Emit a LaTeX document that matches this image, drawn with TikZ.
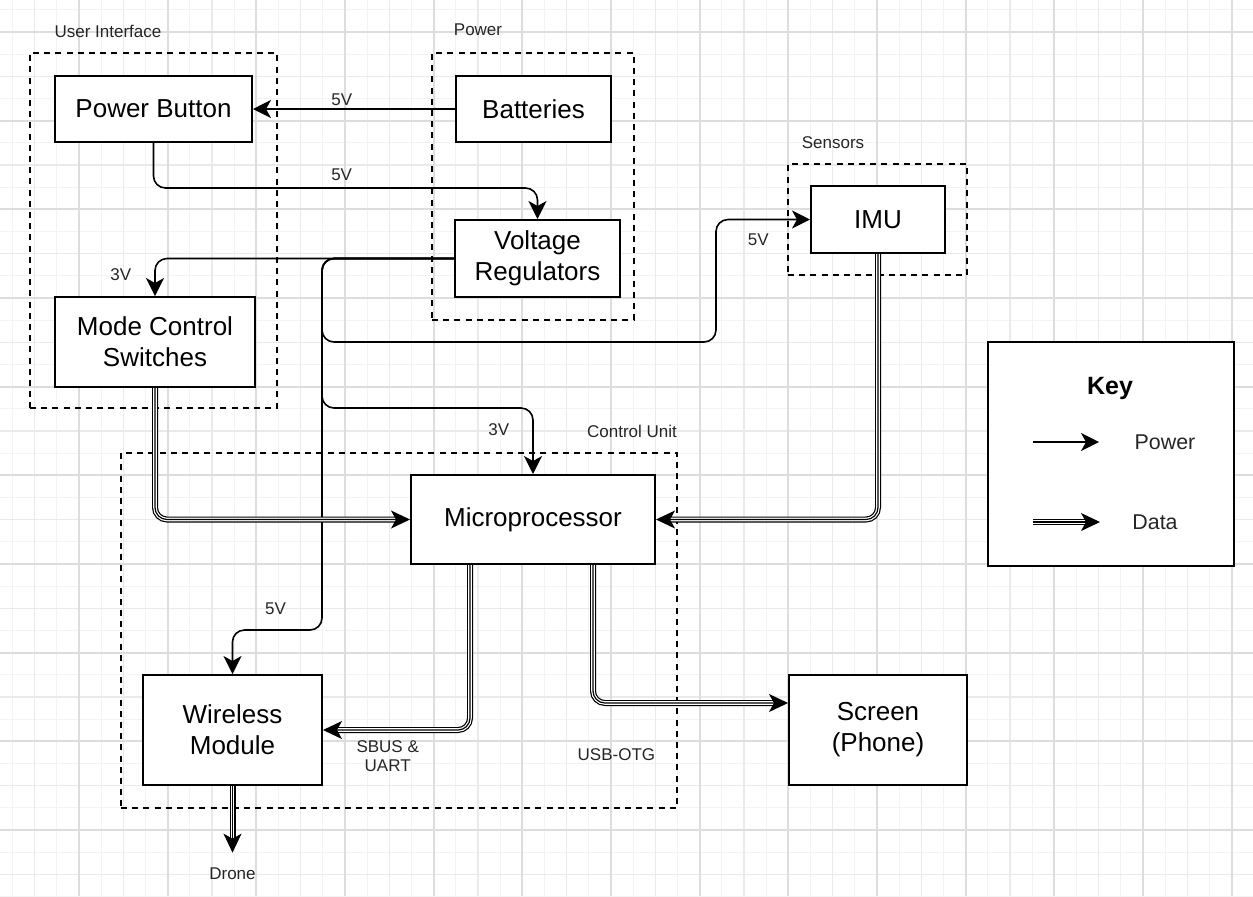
\documentclass[tikz,border=0pt]{standalone}
\usepackage{fontspec}
\setmainfont{Liberation Sans}
\usetikzlibrary{arrows.meta}
\definecolor{gridfaint}{RGB}{243,243,243}
\definecolor{gridmid}{RGB}{234,234,234}
\definecolor{gridmajor}{RGB}{221,221,221}
\tikzset{
  block/.style={draw, line width=1pt, fill=white, align=center, inner sep=2pt,
    font=\fontsize{13}{15.5}\selectfont},
  group/.style={draw, line width=0.9pt, dash pattern=on 3pt off 2.6pt, inner sep=0pt},
  lbl/.style={font=\fontsize{8.5}{9.5}\selectfont, text=black!85, align=center, inner sep=1.5pt},
  keytext/.style={font=\fontsize{10.7}{13}\selectfont, text=black!85},
  power/.style={line width=0.8pt, rounded corners=6pt,
    -{Stealth[length=9pt, width=9pt, inset=2.5pt]}},
  data/.style={line width=0.6pt, rounded corners=6pt,
    -{Stealth[length=9.5pt, width=9pt, inset=2.5pt]},
    preaction={draw, line width=0.6pt, double=white, double distance=1.8pt, arrows=-, shorten >=5pt}}
}

\begin{document}
\begin{tikzpicture}[x=0.5pt, y=-0.5pt]
    \useasboundingbox (0,0) rectangle (1253,896);
    % background grid
    \begin{scope}
      \clip (0,0) rectangle (1253,896);
      \fill[white] (0,0) rectangle (1253,896);
      \foreach \k in {-3,...,53} \draw[gridfaint, line width=0.5pt] (79+22.1675*\k,0) -- (79+22.1675*\k,896);
      \foreach \k in {-1,...,39} \draw[gridfaint, line width=0.5pt] (0,32+22.1675*\k) -- (1253,32+22.1675*\k);
      \foreach \k in {-1,...,26} \draw[gridmid, line width=0.7pt] (79+44.335*\k,0) -- (79+44.335*\k,896);
      \foreach \k in {0,...,19} \draw[gridmid, line width=0.7pt] (0,32+44.335*\k) -- (1253,32+44.335*\k);
      \foreach \k in {-1,...,13} \draw[gridmajor, line width=0.9pt] (79+88.67*\k,0) -- (79+88.67*\k,896);
      \foreach \k in {0,...,9} \draw[gridmajor, line width=0.9pt] (0,32+88.67*\k) -- (1253,32+88.67*\k);
    \end{scope}

    % groups
    \node[group, minimum width=123.5pt, minimum height=177.5pt] (uigroup) at (153.5,230.5) {};
    \node[lbl] (uilabel) at (108,31) {User Interface};
    \node[group, minimum width=101pt, minimum height=133.5pt] (powergroup) at (533,186.5) {};
    \node[lbl] (powerlabel) at (478,30) {Power};
    \node[group, minimum width=89.5pt, minimum height=55.5pt] (sensorgroup) at (877.5,219.5) {};
    \node[lbl] (sensorlabel) at (833,143) {Sensors};
    \node[group, minimum width=278pt, minimum height=177.5pt] (controlgroup) at (399,630.5) {};
    \node[lbl] (controllabel) at (632,431) {Control Unit};

    % blocks
    \node[block, minimum width=98.5pt, minimum height=33pt] (button) at (153.5,109) {Power Button};
    \node[block, minimum width=100pt, minimum height=45pt] (switches) at (155,342) {Mode Control\\Switches};
    \node[block, minimum width=77.5pt, minimum height=33pt] (batteries) at (533.5,109) {Batteries};
    \node[block, minimum width=82.5pt, minimum height=38.5pt] (regulators) at (537.5,258.5) {Voltage\\Regulators};
    \node[block, minimum width=67pt, minimum height=33.5pt] (imu) at (878,219.5) {IMU};
    \node[block, minimum width=122pt, minimum height=44.5pt] (micro) at (533,519.5) {Microprocessor};
    \node[block, minimum width=89.5pt, minimum height=55pt] (wireless) at (232.5,730) {Wireless\\Module};
    \node[block, minimum width=89pt, minimum height=55pt] (screen) at (878,730) {Screen\\(Phone)};
    \node[lbl] (drone) at (232.5,874) {Drone};

    % power connections
    \draw[power] (batteries.west) -- node[lbl, above, pos=0.56] {5V} (button.east);
    \draw[power] (button.south) -- ++(0,45) -| node[lbl, above=2pt, pos=0.245] {5V} (regulators.north);
    \draw[power] (regulators.west) -| node[lbl, left=10pt, pos=0.72] {3V} (switches.north);
    \draw[power] (regulators.west) -| (322,342) -| (716,0 |- imu.west)
        -- node[lbl, below=5pt, pos=0.45] {5V} (imu.west);
    \draw[power] (regulators.west) -| (322,408) -| node[lbl, left=10pt, pos=0.665] {3V} (micro.north);
    \draw[power] (regulators.west) -| (322,630) -| node[lbl, above=6pt, pos=0.26] {5V} (wireless.north);

    % data connections
    \draw[data] (switches.south) |- (micro.west);
    \draw[data] (imu.south) |- (micro.east);
    \draw[data] (470,0 |- micro.south) |- node[lbl, below=3.5pt, pos=0.78] {SBUS \&\\UART} (wireless.east);
    \draw[data] (593,0 |- micro.south) |- node[lbl, below=21pt, pos=0.56] {USB-OTG} ([yshift=13.5pt]screen.west);
    \draw[data] (wireless.south) -- ([yshift=6pt]drone.north);

    % key
    \node[block, minimum width=123pt, minimum height=112pt] (key) at (1111,454) {};
    \node[font=\bfseries\fontsize{12.5}{15}\selectfont] (keytitle) at (1110,388) {Key};
    \coordinate (powerfrom) at (1033,442);
    \coordinate (powerto) at (1099,442);
    \coordinate (datafrom) at (1033,522);
    \coordinate (datato) at (1100,522);
    \draw[power] (powerfrom) -- (powerto);
    \node[keytext] (powerkey) at (1165,442) {Power};
    \draw[data] (datafrom) -- (datato);
    \node[keytext] (datakey) at (1155,522) {Data};
\end{tikzpicture}
\end{document}
